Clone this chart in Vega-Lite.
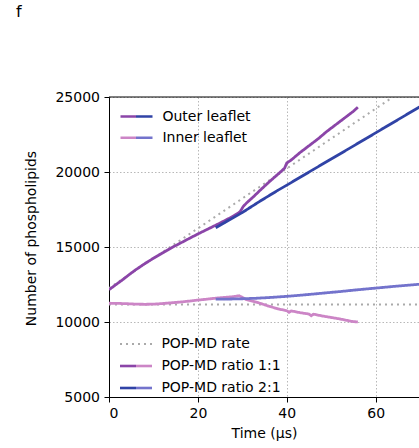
{
  "$schema": "https://vega.github.io/schema/vega-lite/v6.json",
  "autosize": {"type": "none"},
  "width": 310,
  "height": 300,
  "padding": {"left": 109, "top": 97, "right": 0, "bottom": 51},
  "title": {
    "text": "f",
    "anchor": "start",
    "frame": "group",
    "dx": -93,
    "offset": 57,
    "baseline": "alphabetic",
    "fontSize": 16,
    "fontWeight": "normal",
    "font": "DejaVu Sans",
    "color": "#000"
  },
  "datasets": {
    "counts": [
      {"t": 0, "n": 12250, "series": "Rate outer", "leaflet": "Outer leaflet", "run": "POP-MD rate"},
      {"t": 63.9, "n": 25000, "series": "Rate outer", "leaflet": "Outer leaflet", "run": "POP-MD rate"},
      {"t": 0, "n": 11175, "series": "Rate inner", "leaflet": "Inner leaflet", "run": "POP-MD rate"},
      {"t": 70, "n": 11160, "series": "Rate inner", "leaflet": "Inner leaflet", "run": "POP-MD rate"},

      {"t": 0, "n": 12150, "series": "Outer 1:1", "leaflet": "Outer leaflet", "run": "POP-MD ratio 1:1"},
      {"t": 1.5, "n": 12480, "series": "Outer 1:1", "leaflet": "Outer leaflet", "run": "POP-MD ratio 1:1"},
      {"t": 3, "n": 12800, "series": "Outer 1:1", "leaflet": "Outer leaflet", "run": "POP-MD ratio 1:1"},
      {"t": 4.5, "n": 13150, "series": "Outer 1:1", "leaflet": "Outer leaflet", "run": "POP-MD ratio 1:1"},
      {"t": 6, "n": 13480, "series": "Outer 1:1", "leaflet": "Outer leaflet", "run": "POP-MD ratio 1:1"},
      {"t": 8, "n": 13880, "series": "Outer 1:1", "leaflet": "Outer leaflet", "run": "POP-MD ratio 1:1"},
      {"t": 10, "n": 14250, "series": "Outer 1:1", "leaflet": "Outer leaflet", "run": "POP-MD ratio 1:1"},
      {"t": 12, "n": 14600, "series": "Outer 1:1", "leaflet": "Outer leaflet", "run": "POP-MD ratio 1:1"},
      {"t": 14, "n": 14940, "series": "Outer 1:1", "leaflet": "Outer leaflet", "run": "POP-MD ratio 1:1"},
      {"t": 16, "n": 15250, "series": "Outer 1:1", "leaflet": "Outer leaflet", "run": "POP-MD ratio 1:1"},
      {"t": 18, "n": 15560, "series": "Outer 1:1", "leaflet": "Outer leaflet", "run": "POP-MD ratio 1:1"},
      {"t": 20, "n": 15870, "series": "Outer 1:1", "leaflet": "Outer leaflet", "run": "POP-MD ratio 1:1"},
      {"t": 22, "n": 16160, "series": "Outer 1:1", "leaflet": "Outer leaflet", "run": "POP-MD ratio 1:1"},
      {"t": 24, "n": 16450, "series": "Outer 1:1", "leaflet": "Outer leaflet", "run": "POP-MD ratio 1:1"},
      {"t": 26, "n": 16750, "series": "Outer 1:1", "leaflet": "Outer leaflet", "run": "POP-MD ratio 1:1"},
      {"t": 28, "n": 17060, "series": "Outer 1:1", "leaflet": "Outer leaflet", "run": "POP-MD ratio 1:1"},
      {"t": 29.5, "n": 17350, "series": "Outer 1:1", "leaflet": "Outer leaflet", "run": "POP-MD ratio 1:1"},
      {"t": 30.2, "n": 17700, "series": "Outer 1:1", "leaflet": "Outer leaflet", "run": "POP-MD ratio 1:1"},
      {"t": 31, "n": 17950, "series": "Outer 1:1", "leaflet": "Outer leaflet", "run": "POP-MD ratio 1:1"},
      {"t": 32.5, "n": 18350, "series": "Outer 1:1", "leaflet": "Outer leaflet", "run": "POP-MD ratio 1:1"},
      {"t": 34, "n": 18780, "series": "Outer 1:1", "leaflet": "Outer leaflet", "run": "POP-MD ratio 1:1"},
      {"t": 36, "n": 19330, "series": "Outer 1:1", "leaflet": "Outer leaflet", "run": "POP-MD ratio 1:1"},
      {"t": 38, "n": 19850, "series": "Outer 1:1", "leaflet": "Outer leaflet", "run": "POP-MD ratio 1:1"},
      {"t": 39.5, "n": 20250, "series": "Outer 1:1", "leaflet": "Outer leaflet", "run": "POP-MD ratio 1:1"},
      {"t": 40, "n": 20600, "series": "Outer 1:1", "leaflet": "Outer leaflet", "run": "POP-MD ratio 1:1"},
      {"t": 41, "n": 20800, "series": "Outer 1:1", "leaflet": "Outer leaflet", "run": "POP-MD ratio 1:1"},
      {"t": 43, "n": 21300, "series": "Outer 1:1", "leaflet": "Outer leaflet", "run": "POP-MD ratio 1:1"},
      {"t": 45, "n": 21750, "series": "Outer 1:1", "leaflet": "Outer leaflet", "run": "POP-MD ratio 1:1"},
      {"t": 47, "n": 22200, "series": "Outer 1:1", "leaflet": "Outer leaflet", "run": "POP-MD ratio 1:1"},
      {"t": 49, "n": 22700, "series": "Outer 1:1", "leaflet": "Outer leaflet", "run": "POP-MD ratio 1:1"},
      {"t": 51, "n": 23150, "series": "Outer 1:1", "leaflet": "Outer leaflet", "run": "POP-MD ratio 1:1"},
      {"t": 53, "n": 23600, "series": "Outer 1:1", "leaflet": "Outer leaflet", "run": "POP-MD ratio 1:1"},
      {"t": 55, "n": 24050, "series": "Outer 1:1", "leaflet": "Outer leaflet", "run": "POP-MD ratio 1:1"},
      {"t": 56, "n": 24320, "series": "Outer 1:1", "leaflet": "Outer leaflet", "run": "POP-MD ratio 1:1"},

      {"t": 0, "n": 11250, "series": "Inner 1:1", "leaflet": "Inner leaflet", "run": "POP-MD ratio 1:1"},
      {"t": 2, "n": 11240, "series": "Inner 1:1", "leaflet": "Inner leaflet", "run": "POP-MD ratio 1:1"},
      {"t": 4, "n": 11220, "series": "Inner 1:1", "leaflet": "Inner leaflet", "run": "POP-MD ratio 1:1"},
      {"t": 6, "n": 11190, "series": "Inner 1:1", "leaflet": "Inner leaflet", "run": "POP-MD ratio 1:1"},
      {"t": 8, "n": 11180, "series": "Inner 1:1", "leaflet": "Inner leaflet", "run": "POP-MD ratio 1:1"},
      {"t": 10, "n": 11190, "series": "Inner 1:1", "leaflet": "Inner leaflet", "run": "POP-MD ratio 1:1"},
      {"t": 12, "n": 11230, "series": "Inner 1:1", "leaflet": "Inner leaflet", "run": "POP-MD ratio 1:1"},
      {"t": 14, "n": 11280, "series": "Inner 1:1", "leaflet": "Inner leaflet", "run": "POP-MD ratio 1:1"},
      {"t": 16, "n": 11330, "series": "Inner 1:1", "leaflet": "Inner leaflet", "run": "POP-MD ratio 1:1"},
      {"t": 18, "n": 11390, "series": "Inner 1:1", "leaflet": "Inner leaflet", "run": "POP-MD ratio 1:1"},
      {"t": 20, "n": 11460, "series": "Inner 1:1", "leaflet": "Inner leaflet", "run": "POP-MD ratio 1:1"},
      {"t": 22, "n": 11520, "series": "Inner 1:1", "leaflet": "Inner leaflet", "run": "POP-MD ratio 1:1"},
      {"t": 24, "n": 11590, "series": "Inner 1:1", "leaflet": "Inner leaflet", "run": "POP-MD ratio 1:1"},
      {"t": 26, "n": 11640, "series": "Inner 1:1", "leaflet": "Inner leaflet", "run": "POP-MD ratio 1:1"},
      {"t": 28, "n": 11690, "series": "Inner 1:1", "leaflet": "Inner leaflet", "run": "POP-MD ratio 1:1"},
      {"t": 29.3, "n": 11750, "series": "Inner 1:1", "leaflet": "Inner leaflet", "run": "POP-MD ratio 1:1"},
      {"t": 30, "n": 11640, "series": "Inner 1:1", "leaflet": "Inner leaflet", "run": "POP-MD ratio 1:1"},
      {"t": 31, "n": 11480, "series": "Inner 1:1", "leaflet": "Inner leaflet", "run": "POP-MD ratio 1:1"},
      {"t": 32.5, "n": 11370, "series": "Inner 1:1", "leaflet": "Inner leaflet", "run": "POP-MD ratio 1:1"},
      {"t": 34, "n": 11250, "series": "Inner 1:1", "leaflet": "Inner leaflet", "run": "POP-MD ratio 1:1"},
      {"t": 36, "n": 11050, "series": "Inner 1:1", "leaflet": "Inner leaflet", "run": "POP-MD ratio 1:1"},
      {"t": 38, "n": 10880, "series": "Inner 1:1", "leaflet": "Inner leaflet", "run": "POP-MD ratio 1:1"},
      {"t": 40, "n": 10750, "series": "Inner 1:1", "leaflet": "Inner leaflet", "run": "POP-MD ratio 1:1"},
      {"t": 40.5, "n": 10650, "series": "Inner 1:1", "leaflet": "Inner leaflet", "run": "POP-MD ratio 1:1"},
      {"t": 41, "n": 10740, "series": "Inner 1:1", "leaflet": "Inner leaflet", "run": "POP-MD ratio 1:1"},
      {"t": 43, "n": 10620, "series": "Inner 1:1", "leaflet": "Inner leaflet", "run": "POP-MD ratio 1:1"},
      {"t": 45, "n": 10530, "series": "Inner 1:1", "leaflet": "Inner leaflet", "run": "POP-MD ratio 1:1"},
      {"t": 45.5, "n": 10420, "series": "Inner 1:1", "leaflet": "Inner leaflet", "run": "POP-MD ratio 1:1"},
      {"t": 46, "n": 10520, "series": "Inner 1:1", "leaflet": "Inner leaflet", "run": "POP-MD ratio 1:1"},
      {"t": 48, "n": 10400, "series": "Inner 1:1", "leaflet": "Inner leaflet", "run": "POP-MD ratio 1:1"},
      {"t": 50, "n": 10300, "series": "Inner 1:1", "leaflet": "Inner leaflet", "run": "POP-MD ratio 1:1"},
      {"t": 52, "n": 10200, "series": "Inner 1:1", "leaflet": "Inner leaflet", "run": "POP-MD ratio 1:1"},
      {"t": 54, "n": 10080, "series": "Inner 1:1", "leaflet": "Inner leaflet", "run": "POP-MD ratio 1:1"},
      {"t": 55, "n": 10020, "series": "Inner 1:1", "leaflet": "Inner leaflet", "run": "POP-MD ratio 1:1"},
      {"t": 56, "n": 10010, "series": "Inner 1:1", "leaflet": "Inner leaflet", "run": "POP-MD ratio 1:1"},

      {"t": 24, "n": 16280, "series": "Outer 2:1", "leaflet": "Outer leaflet", "run": "POP-MD ratio 2:1"},
      {"t": 26, "n": 16620, "series": "Outer 2:1", "leaflet": "Outer leaflet", "run": "POP-MD ratio 2:1"},
      {"t": 28, "n": 16960, "series": "Outer 2:1", "leaflet": "Outer leaflet", "run": "POP-MD ratio 2:1"},
      {"t": 30, "n": 17300, "series": "Outer 2:1", "leaflet": "Outer leaflet", "run": "POP-MD ratio 2:1"},
      {"t": 32, "n": 17680, "series": "Outer 2:1", "leaflet": "Outer leaflet", "run": "POP-MD ratio 2:1"},
      {"t": 34, "n": 18060, "series": "Outer 2:1", "leaflet": "Outer leaflet", "run": "POP-MD ratio 2:1"},
      {"t": 36, "n": 18420, "series": "Outer 2:1", "leaflet": "Outer leaflet", "run": "POP-MD ratio 2:1"},
      {"t": 38, "n": 18780, "series": "Outer 2:1", "leaflet": "Outer leaflet", "run": "POP-MD ratio 2:1"},
      {"t": 40, "n": 19120, "series": "Outer 2:1", "leaflet": "Outer leaflet", "run": "POP-MD ratio 2:1"},
      {"t": 43, "n": 19650, "series": "Outer 2:1", "leaflet": "Outer leaflet", "run": "POP-MD ratio 2:1"},
      {"t": 46, "n": 20170, "series": "Outer 2:1", "leaflet": "Outer leaflet", "run": "POP-MD ratio 2:1"},
      {"t": 50, "n": 20870, "series": "Outer 2:1", "leaflet": "Outer leaflet", "run": "POP-MD ratio 2:1"},
      {"t": 54, "n": 21560, "series": "Outer 2:1", "leaflet": "Outer leaflet", "run": "POP-MD ratio 2:1"},
      {"t": 58, "n": 22260, "series": "Outer 2:1", "leaflet": "Outer leaflet", "run": "POP-MD ratio 2:1"},
      {"t": 62, "n": 22960, "series": "Outer 2:1", "leaflet": "Outer leaflet", "run": "POP-MD ratio 2:1"},
      {"t": 66, "n": 23660, "series": "Outer 2:1", "leaflet": "Outer leaflet", "run": "POP-MD ratio 2:1"},
      {"t": 70, "n": 24360, "series": "Outer 2:1", "leaflet": "Outer leaflet", "run": "POP-MD ratio 2:1"},

      {"t": 24, "n": 11520, "series": "Inner 2:1", "leaflet": "Inner leaflet", "run": "POP-MD ratio 2:1"},
      {"t": 27, "n": 11530, "series": "Inner 2:1", "leaflet": "Inner leaflet", "run": "POP-MD ratio 2:1"},
      {"t": 30, "n": 11550, "series": "Inner 2:1", "leaflet": "Inner leaflet", "run": "POP-MD ratio 2:1"},
      {"t": 33, "n": 11580, "series": "Inner 2:1", "leaflet": "Inner leaflet", "run": "POP-MD ratio 2:1"},
      {"t": 36, "n": 11630, "series": "Inner 2:1", "leaflet": "Inner leaflet", "run": "POP-MD ratio 2:1"},
      {"t": 40, "n": 11710, "series": "Inner 2:1", "leaflet": "Inner leaflet", "run": "POP-MD ratio 2:1"},
      {"t": 44, "n": 11810, "series": "Inner 2:1", "leaflet": "Inner leaflet", "run": "POP-MD ratio 2:1"},
      {"t": 48, "n": 11920, "series": "Inner 2:1", "leaflet": "Inner leaflet", "run": "POP-MD ratio 2:1"},
      {"t": 52, "n": 12030, "series": "Inner 2:1", "leaflet": "Inner leaflet", "run": "POP-MD ratio 2:1"},
      {"t": 56, "n": 12150, "series": "Inner 2:1", "leaflet": "Inner leaflet", "run": "POP-MD ratio 2:1"},
      {"t": 60, "n": 12260, "series": "Inner 2:1", "leaflet": "Inner leaflet", "run": "POP-MD ratio 2:1"},
      {"t": 64, "n": 12370, "series": "Inner 2:1", "leaflet": "Inner leaflet", "run": "POP-MD ratio 2:1"},
      {"t": 70, "n": 12520, "series": "Inner 2:1", "leaflet": "Inner leaflet", "run": "POP-MD ratio 2:1"}
    ],
    "frame": [
      {"n": 25000}
    ]
  },
  "layer": [
    {
      "data": {"name": "counts"},
      "transform": [{"filter": "datum.run === 'POP-MD rate'"}],
      "mark": {"type": "line", "color": "#aaaaaa", "strokeWidth": 2, "clip": true},
      "encoding": {
        "x": {
          "field": "t",
          "type": "quantitative",
          "scale": {"domain": [0, 69.75], "nice": false, "zero": false},
          "axis": {
            "title": "Time (µs)",
            "values": [0, 20, 40, 60],
            "labelPadding": 4,
            "titlePadding": 6
          }
        },
        "y": {
          "field": "n",
          "type": "quantitative",
          "scale": {"domain": [5000, 25000], "nice": false, "zero": false},
          "axis": {
            "title": "Number of phospholipids",
            "values": [5000, 7500, 10000, 12500, 15000, 17500, 20000, 22500, 25000],
            "format": "d",
            "labelPadding": 4.5,
            "titleAngle": -90,
            "titleX": -78,
            "titleY": 141,
            "titleAlign": "center",
            "titleBaseline": "middle"
          }
        },
        "detail": {"field": "series"},
        "strokeDash": {
          "field": "run",
          "type": "nominal",
          "scale": {
            "domain": ["POP-MD rate", "POP-MD ratio 1:1", "POP-MD ratio 2:1"],
            "range": [[2, 4], [1, 0], [1, 0]]
          },
          "legend": {
            "orient": "none",
            "legendX": 19,
            "legendY": 239,
            "title": null,
            "symbolSize": 196,
            "labelOffset": 17.4,
            "rowPadding": 7,
            "symbolType": "M-2.2857,-0.186H2.2857V0.186H-2.2857Z",
            "encode": {
              "symbols": {
                "update": {
                  "shape": {"signal": "datum.value === 'POP-MD rate' ? 'M-2.2857,0H2.2857' : 'M-2.2857,-0.186H2.2857V0.186H-2.2857Z'"},
                  "fill": {"signal": "datum.value === 'POP-MD rate' ? 'transparent' : datum.value === 'POP-MD ratio 1:1' ? {'gradient': 'linear', 'x1': 0, 'y1': 0, 'x2': 1, 'y2': 0, 'stops': [{'offset': 0, 'color': '#8B45A8'}, {'offset': 0.5, 'color': '#8B45A8'}, {'offset': 0.5, 'color': '#CC85C6'}, {'offset': 1, 'color': '#CC85C6'}]} : {'gradient': 'linear', 'x1': 0, 'y1': 0, 'x2': 1, 'y2': 0, 'stops': [{'offset': 0, 'color': '#3043A6'}, {'offset': 0.5, 'color': '#3043A6'}, {'offset': 0.5, 'color': '#7373CC'}, {'offset': 1, 'color': '#7373CC'}]}"},
                  "stroke": {"signal": "datum.value === 'POP-MD rate' ? '#aaaaaa' : 'transparent'"},
                  "strokeWidth": {"value": 2},
                  "opacity": {"value": 1},
                  "fillOpacity": {"value": 1},
                  "strokeOpacity": {"value": 1}
                }
              }
            }
          }
        }
      }
    },
    {
      "data": {"name": "counts"},
      "transform": [{"filter": "datum.run !== 'POP-MD rate'"}],
      "mark": {"type": "line", "clip": true},
      "encoding": {
        "x": {"field": "t", "type": "quantitative"},
        "y": {"field": "n", "type": "quantitative"},
        "color": {
          "field": "series",
          "type": "nominal",
          "scale": {
            "domain": ["Outer 1:1", "Inner 1:1", "Outer 2:1", "Inner 2:1"],
            "range": ["#8B45A8", "#CC85C6", "#3043A6", "#7373CC"]
          },
          "legend": null
        },
        "strokeDash": {
          "field": "run",
          "type": "nominal",
          "legend": {
            "orient": "none",
            "legendX": 19,
            "legendY": 239,
            "title": null,
            "symbolSize": 196,
            "labelOffset": 17.4,
            "rowPadding": 7,
            "symbolType": "M-2.2857,-0.186H2.2857V0.186H-2.2857Z",
            "encode": {
              "symbols": {
                "update": {
                  "shape": {"signal": "datum.value === 'POP-MD rate' ? 'M-2.2857,0H2.2857' : 'M-2.2857,-0.186H2.2857V0.186H-2.2857Z'"},
                  "fill": {"signal": "datum.value === 'POP-MD rate' ? 'transparent' : datum.value === 'POP-MD ratio 1:1' ? {'gradient': 'linear', 'x1': 0, 'y1': 0, 'x2': 1, 'y2': 0, 'stops': [{'offset': 0, 'color': '#8B45A8'}, {'offset': 0.5, 'color': '#8B45A8'}, {'offset': 0.5, 'color': '#CC85C6'}, {'offset': 1, 'color': '#CC85C6'}]} : {'gradient': 'linear', 'x1': 0, 'y1': 0, 'x2': 1, 'y2': 0, 'stops': [{'offset': 0, 'color': '#3043A6'}, {'offset': 0.5, 'color': '#3043A6'}, {'offset': 0.5, 'color': '#7373CC'}, {'offset': 1, 'color': '#7373CC'}]}"},
                  "stroke": {"signal": "datum.value === 'POP-MD rate' ? '#aaaaaa' : 'transparent'"},
                  "strokeWidth": {"value": 2},
                  "opacity": {"value": 1},
                  "fillOpacity": {"value": 1},
                  "strokeOpacity": {"value": 1}
                }
              }
            }
          }
        },
        "strokeWidth": {
          "field": "leaflet",
          "type": "ordinal",
          "scale": {"domain": ["Outer leaflet", "Inner leaflet"], "range": [2.8, 2.8]},
          "legend": {
            "orient": "none",
            "legendX": 19,
            "legendY": 11,
            "title": null,
            "symbolSize": 196,
            "labelOffset": 17.4,
            "rowPadding": 5.2,
            "symbolType": "M-2.2857,-0.186H2.2857V0.186H-2.2857Z",
            "encode": {
              "symbols": {
                "update": {
                  "shape": {"value": "M-2.2857,-0.186H2.2857V0.186H-2.2857Z"},
                  "fill": {"signal": "datum.value === 'Outer leaflet' ? {'gradient': 'linear', 'x1': 0, 'y1': 0, 'x2': 1, 'y2': 0, 'stops': [{'offset': 0, 'color': '#8B45A8'}, {'offset': 0.5, 'color': '#8B45A8'}, {'offset': 0.5, 'color': '#3043A6'}, {'offset': 1, 'color': '#3043A6'}]} : {'gradient': 'linear', 'x1': 0, 'y1': 0, 'x2': 1, 'y2': 0, 'stops': [{'offset': 0, 'color': '#CC85C6'}, {'offset': 0.5, 'color': '#CC85C6'}, {'offset': 0.5, 'color': '#7373CC'}, {'offset': 1, 'color': '#7373CC'}]}"},
                  "stroke": {"value": "transparent"},
                  "opacity": {"value": 1},
                  "fillOpacity": {"value": 1}
                }
              }
            }
          }
        }
      }
    },
    {
      "data": {"name": "frame"},
      "mark": {"type": "rule", "color": "#000", "strokeWidth": 1},
      "encoding": {"y": {"field": "n", "type": "quantitative"}}
    }
  ],
  "config": {
    "font": "DejaVu Sans",
    "view": {"stroke": null},
    "axis": {
      "domainColor": "#000",
      "domainWidth": 1,
      "tickColor": "#000",
      "tickWidth": 1,
      "tickSize": 5,
      "labelColor": "#000",
      "titleColor": "#000",
      "labelFont": "DejaVu Sans",
      "titleFont": "DejaVu Sans",
      "labelFontSize": 14,
      "titleFontSize": 14,
      "titleFontWeight": "normal",
      "grid": true,
      "gridColor": "#b8b8b8",
      "gridDash": [1.5, 2],
      "gridWidth": 1
    },
    "legend": {
      "labelFont": "DejaVu Sans",
      "labelFontSize": 14,
      "labelColor": "#000",
      "padding": 0
    }
  }
}
